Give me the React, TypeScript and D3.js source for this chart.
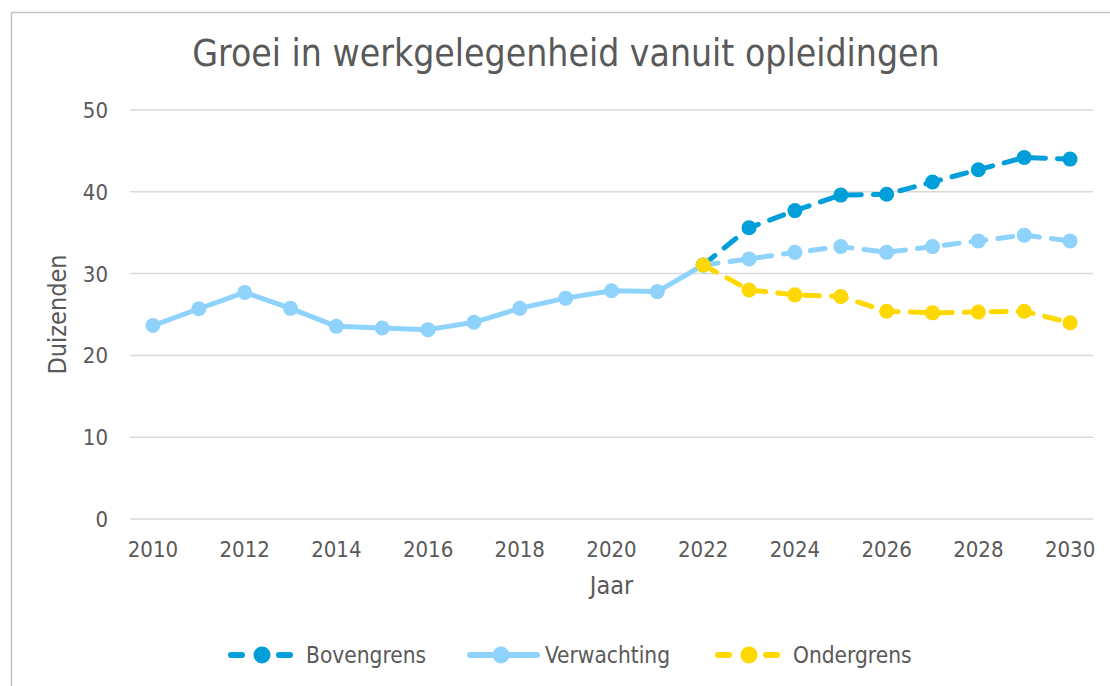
import React from "react";
import * as d3 from "d3";

const years = ["2010","2011","2012","2013","2014","2015","2016","2017","2018","2019","2020","2021","2022","2023","2024","2025","2026","2027","2028","2029","2030"];
const tickYears = ["2010","2012","2014","2016","2018","2020","2022","2024","2026","2028","2030"];
const yTicks = [0, 10, 20, 30, 40, 50];

const verwachting = [23.65, 25.7, 27.7, 25.75, 23.55, 23.35, 23.15, 24.05, 25.75, 27.0, 27.9, 27.8, 31.05, 31.8, 32.6, 33.3, 32.6, 33.3, 34.0, 34.7, 34.0];
const bovengrens: (number | null)[] = [null, null, null, null, null, null, null, null, null, null, null, null, 31.05, 35.6, 37.7, 39.6, 39.7, 41.2, 42.7, 44.2, 44.0];
const ondergrens: (number | null)[] = [null, null, null, null, null, null, null, null, null, null, null, null, 31.05, 28.0, 27.4, 27.2, 25.4, 25.2, 25.3, 25.4, 24.0];
const forecastStart = 12;

const colors = { Bovengrens: "#009FD9", Verwachting: "#8FD3FD", Ondergrens: "#FFD800" };

const FONT = "'DejaVu Sans Condensed', 'DejaVu Sans', sans-serif";
const TEXT = "#595959";

export default function App() {
  const W = 1110, H = 686;
  const left = 130, right = 1093, top = 110, bottom = 519;
  const x = d3.scaleBand<string>().domain(years).range([left, right]);
  const cx = (yr: string) => (x(yr) as number) + x.bandwidth() / 2;
  const y = d3.scaleLinear().domain([0, 50]).range([bottom, top]);

  const line = d3.line<[string, number | null]>()
    .defined(d => d[1] != null)
    .x(d => cx(d[0]))
    .y(d => y(d[1] as number));

  const zip = (arr: (number | null)[]) => years.map((yr, i) => [yr, arr[i]] as [string, number | null]);
  const vHist = zip(verwachting.map((v, i) => (i <= forecastStart ? v : null)));
  const vFc = zip(verwachting.map((v, i) => (i >= forecastStart ? v : null)));
  const bov = zip(bovengrens);
  const ond = zip(ondergrens);

  const lw = 5, r = 7.5;
  const dash = "15 12";

  const markers = (arr: [string, number | null][], color: string) =>
    arr.filter(d => d[1] != null).map(d => (
      <circle key={d[0]} cx={cx(d[0])} cy={y(d[1] as number)} r={r} fill={color} />
    ));

  const legendItems = [
    { name: "Bovengrens", x0: 228, dashed: true },
    { name: "Verwachting", x0: 467, dashed: false },
    { name: "Ondergrens", x0: 715, dashed: true },
  ];
  const ly = 655;

  return (
    <svg width={W} height={H} style={{ position: "fixed", left: 0, top: 0 }} fontFamily={FONT}>
      <rect x={0} y={0} width={W} height={H} fill="#fff" />
      <rect x={11.5} y={12.5} width={W + 20} height={H + 20} fill="none" stroke="#c2c2c2" strokeWidth={1.5} />
      <text x={566} y={66} textAnchor="middle" fontSize={37} fill={TEXT}>Groei in werkgelegenheid vanuit opleidingen</text>

      {yTicks.map(t => (
        <g key={t}>
          <line x1={left} x2={right} y1={y(t)} y2={y(t)} stroke="#d9d9d9" strokeWidth={1.5} />
          <text x={108} y={y(t)} dy="0.36em" textAnchor="end" fontSize={22} fill={TEXT}>{t}</text>
        </g>
      ))}
      {tickYears.map(t => (
        <text key={t} x={cx(t)} y={557} textAnchor="middle" fontSize={22} fill={TEXT}>{t}</text>
      ))}
      <text x={(left + right) / 2} y={594} textAnchor="middle" fontSize={25} fill={TEXT}>Jaar</text>
      <text transform={`translate(66, ${(top + bottom) / 2}) rotate(-90)`} textAnchor="middle" fontSize={25} fill={TEXT}>Duizenden</text>

      <path d={line(bov) as string} fill="none" stroke={colors.Bovengrens} strokeWidth={lw} strokeDasharray={dash} strokeLinecap="round" strokeLinejoin="round" />
      {markers(bov, colors.Bovengrens)}
      <path d={line(vHist) as string} fill="none" stroke={colors.Verwachting} strokeWidth={lw} strokeLinecap="round" strokeLinejoin="round" />
      <path d={line(vFc) as string} fill="none" stroke={colors.Verwachting} strokeWidth={lw} strokeDasharray={dash} strokeLinecap="round" strokeLinejoin="round" />
      {markers(zip(verwachting), colors.Verwachting)}
      <path d={line(ond) as string} fill="none" stroke={colors.Ondergrens} strokeWidth={lw} strokeDasharray={dash} strokeLinecap="round" strokeLinejoin="round" />
      {markers(ond, colors.Ondergrens)}

      {legendItems.map(it => {
        const c = (colors as any)[it.name];
        return (
          <g key={it.name}>
            {it.dashed ? (
              <>
                <line x1={it.x0 + 3} x2={it.x0 + 14} y1={ly} y2={ly} stroke={c} strokeWidth={6} strokeLinecap="round" />
                <line x1={it.x0 + 51} x2={it.x0 + 62} y1={ly} y2={ly} stroke={c} strokeWidth={6} strokeLinecap="round" />
              </>
            ) : (
              <line x1={it.x0 + 3} x2={it.x0 + 70} y1={ly} y2={ly} stroke={c} strokeWidth={6} strokeLinecap="round" />
            )}
            <circle cx={it.x0 + 34} cy={ly} r={8.5} fill={c} />
            <text x={it.x0 + 78} y={ly} dy="0.36em" fontSize={22.5} fill={TEXT}>{it.name}</text>
          </g>
        );
      })}
    </svg>
  );
}
